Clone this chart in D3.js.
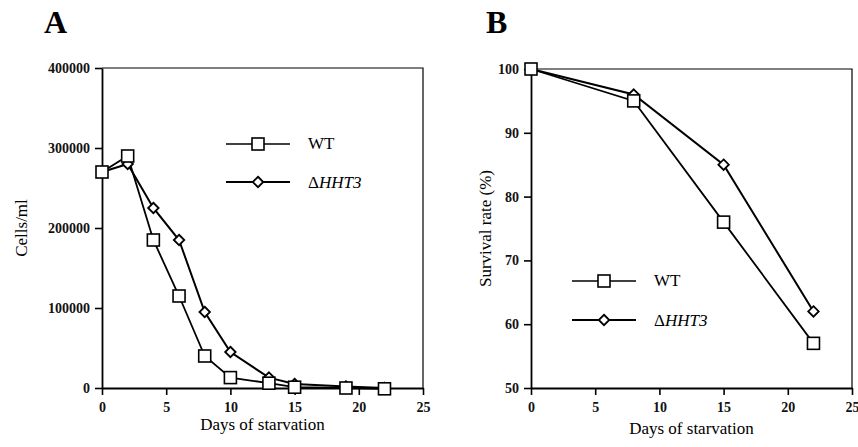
<!DOCTYPE html>
<html>
<head>
<meta charset="utf-8">
<script src="https://cdn.jsdelivr.net/npm/d3@7"></script>
<style>
  body { margin: 0; background: #fff; }
  svg text { font-family: "Liberation Serif", "Times New Roman", serif; }
</style>
</head>
<body>
<svg id="chart" width="858" height="447"></svg>
<script>
// panel A: cells/ml
let daysA = [0, 2, 4, 6, 8, 10, 13, 15, 19, 22];
let wtA = [270000, 290000, 185000, 115000, 40000, 13000, 6000, 1000, 0, -1000];
let hhtA = [270000, 280000, 225000, 185000, 95000, 45000, 13000, 5000, 2000, 0];
let yTicksA = [0, 100000, 200000, 300000, 400000];

// panel B: survival rate
let daysB = [0, 8, 15, 22];
let wtB = [100, 95, 76, 57];
let hhtB = [100, 96, 85, 62];
let yTicksB = [50, 60, 70, 80, 90, 100];

let xTicks = [0, 5, 10, 15, 20, 25];

let svg = d3.select("#chart");

function panel(opt) {
    let g = svg.append("g");
    let x = d3.scaleLinear().domain([0, 25]).range([opt.left, opt.right]);
    let y = d3.scaleLinear().domain(opt.ydomain).range([opt.bottom, opt.top]);

    // frame (top + right)
    g.append("path")
        .attr("d", "M" + opt.left + "," + opt.top + "H" + opt.right + "V" + opt.bottom)
        .attr("fill", "none")
        .attr("stroke", "#000")
        .attr("stroke-width", 1.2);

    let xAxis = g.append("g")
        .attr("transform", "translate(0," + opt.bottom + ")")
        .call(d3.axisBottom(x).tickValues(xTicks).tickSize(7).tickSizeOuter(0).tickPadding(7));
    let yAxis = g.append("g")
        .attr("transform", "translate(" + opt.left + ",0)")
        .call(d3.axisLeft(y).tickValues(opt.yticks).tickSize(7).tickSizeOuter(0).tickPadding(5)
            .tickFormat(d3.format("d")));

    [xAxis, yAxis].forEach(function (a) {
        a.attr("font-family", null).attr("font-size", null);
        a.select(".domain").attr("stroke-width", 1.8);
        a.selectAll(".tick line").attr("stroke-width", 1.6);
        a.selectAll(".tick text")
            .style("font-size", "14px")
            .style("font-weight", 700)
            .attr("fill", "#111");
    });

    let line = d3.line()
        .x(function (d) { return x(d[0]); })
        .y(function (d) { return y(d[1]); });

    let wt = opt.days.map(function (d, i) { return [d, opt.wt[i]]; });
    let hh = opt.days.map(function (d, i) { return [d, opt.hht[i]]; });

    g.append("path").datum(hh).attr("d", line)
        .attr("fill", "none").attr("stroke", "#000").attr("stroke-width", 2);
    g.append("path").datum(wt).attr("d", line)
        .attr("fill", "none").attr("stroke", "#000").attr("stroke-width", 1.8);

    g.selectAll(".dia").data(hh).enter().append("path")
        .attr("d", d3.symbol().type(d3.symbolDiamond2).size(70))
        .attr("transform", function (d) { return "translate(" + x(d[0]) + "," + y(d[1]) + ")"; })
        .attr("fill", "#fff").attr("stroke", "#000").attr("stroke-width", 1.8);
    g.selectAll(".sq").data(wt).enter().append("rect")
        .attr("x", function (d) { return x(d[0]) - 6; })
        .attr("y", function (d) { return y(d[1]) - 6; })
        .attr("width", 12).attr("height", 12)
        .attr("fill", "#fff").attr("stroke", "#000").attr("stroke-width", 1.6);

    // legend
    let lg = g.append("g");
    lg.append("line").attr("x1", opt.lx).attr("x2", opt.lx + 64)
        .attr("y1", opt.ly).attr("y2", opt.ly).attr("stroke", "#000").attr("stroke-width", 1.5);
    lg.append("rect").attr("x", opt.lx + 32 - 6).attr("y", opt.ly - 6)
        .attr("width", 12).attr("height", 12)
        .attr("fill", "#fff").attr("stroke", "#000").attr("stroke-width", 1.6);
    lg.append("line").attr("x1", opt.lx).attr("x2", opt.lx + 64)
        .attr("y1", opt.ly + opt.lgap).attr("y2", opt.ly + opt.lgap).attr("stroke", "#000").attr("stroke-width", 2);
    lg.append("path")
        .attr("d", d3.symbol().type(d3.symbolDiamond2).size(70))
        .attr("transform", "translate(" + (opt.lx + 32) + "," + (opt.ly + opt.lgap) + ")")
        .attr("fill", "#fff").attr("stroke", "#000").attr("stroke-width", 1.8);
    lg.append("text").attr("x", opt.lx + 82).attr("y", opt.ly + 5)
        .style("font-size", "17px").text("WT");
    let t2 = lg.append("text").attr("x", opt.lx + 82).attr("y", opt.ly + opt.lgap + 6)
        .style("font-size", "17px");
    t2.append("tspan").text("\u0394");
    t2.append("tspan").style("font-style", "italic").text("HHT3");

    // axis titles
    g.append("text")
        .attr("x", (opt.left + opt.right) / 2)
        .attr("y", opt.xlabY)
        .attr("text-anchor", "middle")
        .style("font-size", "17px")
        .text("Days of starvation");
    g.append("text")
        .attr("transform", "translate(" + opt.ylabX + "," + ((opt.top + opt.bottom) / 2) + ") rotate(-90)")
        .attr("text-anchor", "middle")
        .style("font-size", "17px")
        .text(opt.ylabel);

    // panel letter
    g.append("text")
        .attr("x", opt.letterX).attr("y", 33)
        .style("font-size", "32px").style("font-weight", 700)
        .text(opt.letter);
}

panel({
    left: 102, right: 423, top: 68, bottom: 388,
    ydomain: [0, 400000], yticks: yTicksA,
    days: daysA, wt: wtA, hht: hhtA,
    lx: 226, ly: 144, lgap: 38,
    xlabY: 430, ylabX: 27, ylabel: "Cells/ml",
    letter: "A", letterX: 44
});

panel({
    left: 531, right: 852, top: 69, bottom: 388,
    ydomain: [50, 100], yticks: yTicksB,
    days: daysB, wt: wtB, hht: hhtB,
    lx: 572, ly: 281, lgap: 39,
    xlabY: 434, ylabX: 491, ylabel: "Survival rate (%)",
    letter: "B", letterX: 486
});
</script>
</body>
</html>
